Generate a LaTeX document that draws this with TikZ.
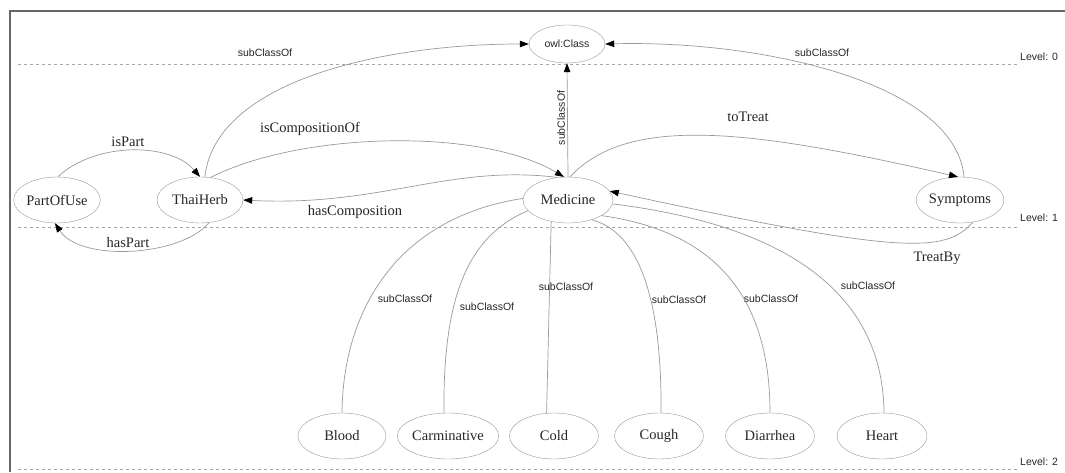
\documentclass[tikz,border=0pt]{standalone}
\usepackage{fontspec}
\setmainfont{Liberation Serif}
\setsansfont{Liberation Sans}
\usetikzlibrary{positioning,arrows.meta,shapes.geometric}

\begin{document}
\begin{tikzpicture}[
  x=1pt,y=1pt,
  cls/.style={draw=black!40,ellipse,inner sep=0pt,minimum width=88pt,minimum height=46pt,
              font=\fontsize{14.5}{16}\selectfont,text=black!85},
  root/.style={cls,minimum width=76pt,minimum height=38pt,
               font=\sffamily\fontsize{10.5}{12}\selectfont},
  link/.style={line width=0.7pt,draw=black!40},
  flow/.style={link,-{Triangle[length=9pt,width=6.5pt,color=black]}},
  lbl/.style={font=\fontsize{14.5}{16}\selectfont,text=black!85,inner sep=1pt},
  sub/.style={font=\sffamily\fontsize{10.5}{12}\selectfont,text=black!85,inner sep=1pt},
  level/.style={draw=black!35,line width=0.6pt,dash pattern=on 3pt off 3pt},
  frame/.style={draw=black!60,line width=1.6pt}
]
\useasboundingbox (0,0) rectangle (1065,472);

% ---- frame and levels ----
\draw[frame] (10,0) -- (10,461) -- (1065,461);
\draw[level] (18,408) -- (1018,408);
\draw[level] (18,245) -- (1018,245);
\draw[level] (18,3) -- (1018,3);
\node[sub,anchor=west] (lv0) at (1019,415) {Level: 0};
\node[sub,anchor=west] (lv1) at (1019,254) {Level: 1};
\node[sub,anchor=west] (lv2) at (1019,10) {Level: 2};

% ---- classes ----
\node[root] (owl) at (567,428) {owl:Class};
\node[cls,minimum width=86pt] (PartOfUse) at (57,272) {PartOfUse};
\node[cls,minimum width=86pt] (ThaiHerb) at (200,272) {ThaiHerb};
\node[cls,minimum width=90pt] (Medicine) at (568,272) {Medicine};
\node[cls,minimum width=86pt] (Symptoms) at (960,272) {Symptoms};

\node[cls] (Blood) at (342,36) {Blood};
\node[cls,minimum width=89pt] (Carminative) at (448,36) {Carminative};
\node[cls,minimum width=89pt] (Cold) at (554,36) {Cold};
\node[cls,minimum width=89pt] (Cough) at (659,36) {Cough};
\node[cls,minimum width=89pt] (Diarrhea) at (770,36) {Diarrhea};
\node[cls,minimum width=90pt] (Heart) at (882,36) {Heart};

% ---- level 1 to owl:Class ----
\draw[flow] (ThaiHerb.78) .. controls (215,390) and (380,428) .. (owl.west);
\draw[flow] (Symptoms.80) .. controls (955,390) and (760,432) .. (owl.east);
\draw[flow] (Medicine.north) -- (owl.south);
\node[sub] (s1) at (265,419) {subClassOf};
\node[sub] (s2) at (822,419) {subClassOf};
\node[sub,rotate=90] (s3) at (561,354) {subClassOf};

% ---- relations ----
\draw[flow] (PartOfUse.88) .. controls (95,330) and (170,330) .. (ThaiHerb.90);
\draw[flow] (ThaiHerb.-68) .. controls (180,215) and (80,210) .. (PartOfUse.-95);
\draw[flow] (ThaiHerb.65) .. controls (300,340) and (480,345) .. (Medicine.100);
\draw[flow] (Medicine.115) .. controls (450,308) and (380,265) .. (ThaiHerb.east);
\draw[flow] (Medicine.85) .. controls (630,360) and (760,340) .. (Symptoms.95);
\draw[flow] (Symptoms.-60) .. controls (945,218) and (900,218) .. (Medicine.12);
\node[lbl] (isPart) at (128,330) {isPart};
\node[lbl] (hasPart) at (128,229) {hasPart};
\node[lbl] (isComp) at (310,343) {isCompositionOf};
\node[lbl] (hasComp) at (355,260) {hasComposition};
\node[lbl] (toTreat) at (748,355) {toTreat};
\node[lbl] (TreatBy) at (937,214) {TreatBy};

% ---- level 2 to Medicine ----
\draw[link] (Blood.north) .. controls (343,165) and (400,255) .. (Medicine.178);
\draw[link] (Carminative.100) .. controls (443,170) and (465,235) .. (Medicine.-165);
\draw[link] (Cold.108) -- (Medicine.-128);
\draw[link] (Cough.85) .. controls (662,170) and (640,240) .. (Medicine.-40);
\draw[link] (Diarrhea.north) .. controls (770,170) and (720,240) .. (Medicine.-25);
\draw[link] (Heart.85) .. controls (883,170) and (800,245) .. (Medicine.-5);
\node[sub] (s4) at (405,173) {subClassOf};
\node[sub] (s5) at (487,165) {subClassOf};
\node[sub] (s6) at (566,185) {subClassOf};
\node[sub] (s7) at (679,172) {subClassOf};
\node[sub] (s8) at (771,173) {subClassOf};
\node[sub] (s9) at (868,186) {subClassOf};

\end{tikzpicture}
\end{document}
